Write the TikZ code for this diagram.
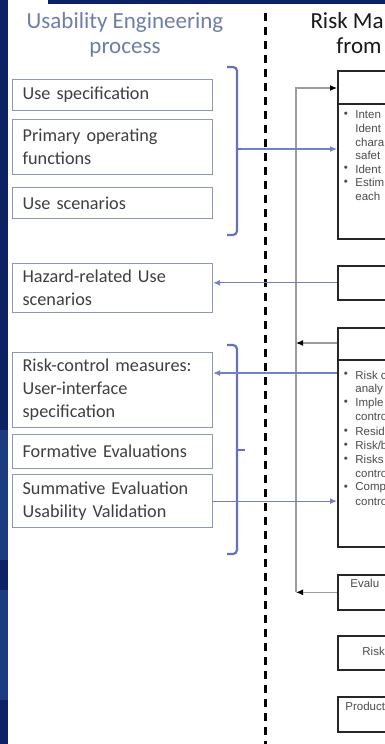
\documentclass[tikz,border=0pt]{standalone}
\usepackage{fontspec}
\setmainfont{Carlito}
\newfontfamily\arialfont{Liberation Sans}
\usepackage{tikz}
\usetikzlibrary{arrows.meta, calc, positioning}
\tikzset{>={Latex[round]}}

\definecolor{navy}{HTML}{0C2262}
\definecolor{slide}{HTML}{1C3C82}
\definecolor{titlegray}{HTML}{6E7EA9}
\definecolor{boxline}{HTML}{8D97B8}
\definecolor{boxtext}{HTML}{3F3F3F}
\definecolor{linkblue}{HTML}{7480C4}
\definecolor{bracketblue}{HTML}{6670BE}
\definecolor{feedgray}{HTML}{9C9C9C}

\begin{document}
\begin{tikzpicture}[x=0.5pt, y=-0.5pt,
  usebox/.style={draw=boxline, line width=0.6pt, fill=white, text=boxtext,
    font=\fontsize{9.1}{11.5}\selectfont, align=left, text width=90pt,
    inner xsep=5pt, inner ysep=1pt, anchor=north west},
  rmbox/.style={draw=black!85, line width=0.8pt, fill=white, anchor=north west,
    minimum width=32pt, inner sep=0pt},
  rmtext/.style={font=\arialfont\fontsize{5.75}{7}\selectfont, text=black!70,
    inner sep=0pt, anchor=west},
  title/.style={font=\fontsize{11.5}{12.5}\selectfont, inner sep=0pt},
  link/.style={draw=linkblue, line width=0.6pt, -{Latex[length=3.5pt, width=3pt]}},
  feed/.style={draw=feedgray, line width=0.6pt},
  feedarrow/.style={feed, -{Latex[length=3.5pt, width=3pt, color=black]}},
  bracket/.style={draw=bracketblue, line width=1.1pt, rounded corners=2pt}]

\useasboundingbox (0,0) rectangle (385,744);
\clip (0,0) rectangle (385,744);

% Slide background
\fill[white] (0,0) rectangle (385,744);
\fill[navy] (0,0) rectangle (8,430);
\fill[slide] (0,430) rectangle (8,560);
\fill[navy] (0,560) rectangle (8,590);
\fill[slide] (0,590) rectangle (8,700);
\fill[navy] (0,700) rectangle (8,744);
\fill[navy] (48,0) rectangle (385,4);

% Titles
\node[title, text=titlegray, anchor=base] (ueA) at (125,28) {Usability Engineering};
\node[title, text=titlegray, anchor=base] (ueB) at (125,53) {process};
\node[title, text=black!90, anchor=base east] (rmA) at (384,28) {Risk Ma};
\node[title, text=black!90, anchor=base west] (rmB) at (336,53) {from};

% Separator
\draw[black, line width=1.5pt, dash pattern=on 4pt off 3pt] (265,13) -- (265,744);

% Usability engineering boxes
\node[usebox, minimum height=15.5pt] (usespec) at (12,79) {Use specification};
\node[usebox, minimum height=27.5pt] (primary) at (12,119) {Primary operating\\functions};
\node[usebox, minimum height=15.5pt] (usescen) at (12,187) {Use scenarios};
\node[usebox, minimum height=24.5pt] (hazard) at (12,263) {Hazard-related Use\\scenarios};
\node[usebox, minimum height=37.5pt] (rcm) at (12,352) {Risk-control measures:\\User-interface\\specification};
\node[usebox, minimum height=17pt] (formative) at (12,434) {Formative Evaluations};
\node[usebox, minimum height=26.5pt] (summative) at (12,474) {Summative Evaluation\\Usability Validation};

% Brackets
\coordinate (brtip) at (237,149);
\draw[bracket] (227,67) -- (237,67) -- (237,235) -- (227,235);
\draw[bracket] (227,345) -- (237,345) -- (237,554) -- (227,554);
\draw[bracketblue, line width=1.1pt] (237,450) -- (245,450);

% Risk management boxes
\node[rmbox, minimum height=84pt] (rm1) at (337,70) {};
\node[rmbox, minimum height=17pt] (rm2) at (337,265) {};
\node[rmbox, minimum height=109.5pt] (rm3) at (337,327) {};
\node[rmbox, minimum height=17.5pt] (evb) at (337,574) {};
\node[rmbox, minimum height=17pt] (rkb) at (337,635) {};
\node[rmbox, minimum height=17.5pt] (prb) at (337,696) {};
\draw[black!85, line width=0.6pt] (337,104) -- (400,104);
\draw[black!85, line width=0.6pt] (337,360) -- (400,360);

% Box texts
\foreach \b/\t [count=\i from 0] in {\textbullet/Inten, {}/Ident, {}/chara, {}/safet,
    \textbullet/Ident, \textbullet/Estim, {}/each} {
  \node[rmtext] (rmtA\i) at (355, {115+13.5*\i}) {\t};
  \node[rmtext, anchor=center] (rmbA\i) at (346, {115+13.5*\i}) {\b};
}
\foreach \b/\t [count=\i from 0] in {\textbullet/Risk c, {}/analy, \textbullet/Imple, {}/contro,
    \textbullet/Resid, \textbullet/{Risk/b}, \textbullet/Risks, {}/contro, \textbullet/Comp, {}/contro} {
  \node[rmtext] (rmtC\i) at (355, {375+14.1*\i}) {\t};
  \node[rmtext, anchor=center] (rmbC\i) at (346, {375+14.1*\i}) {\b};
}
\node[rmtext] (evtext) at (350,583) {Evalu};
\node[rmtext] (rktext) at (362,651) {Risk};
\node[rmtext] (prtext) at (345,706) {Product};

% Feedback loop
\coordinate (fbtop) at (296,88);
\coordinate (rm3out) at (337,343);
\draw[feedarrow] (evb.west) -- (evb.west -| fbtop);
\draw[feedarrow] (evb.west -| fbtop) -- (fbtop) -- (fbtop -| rm1.west);
\draw[feedarrow] (rm3out) -- (rm3out -| fbtop);

% Links between the two processes
\coordinate (rm3link) at (337,373);
\draw[link] (brtip) -- (brtip -| rm1.west);
\draw[bracketblue, line width=1.1pt] (brtip) -- ++(4,0);
\draw[link] (rm2.west) -- (rm2.west -| hazard.east);
\draw[link] (rm3link) -- (rm3link -| rcm.east);
\draw[link] (summative.east) -- (summative.east -| rm3.west);

\end{tikzpicture}
\end{document}
